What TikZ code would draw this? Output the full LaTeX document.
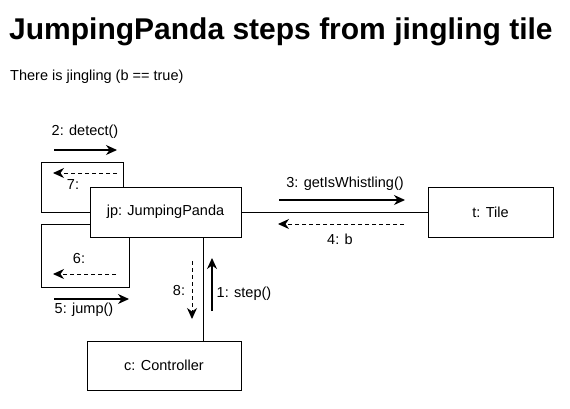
\documentclass[tikz,border=0pt]{standalone}
\usepackage{fontspec}
\setmainfont{Liberation Sans}
\usetikzlibrary{arrows.meta}
\begin{document}
\begin{tikzpicture}[x=1pt,y=-1pt,
  obj/.style={draw,line width=1pt,minimum width=#1,minimum height=50pt,inner sep=0pt,font=\fontsize{14.5}{17}\selectfont},
  link/.style={draw,line width=1pt},
  msg/.style={line width=1.1pt,-{Stealth[length=11pt,width=10pt,inset=3.5pt]}},
  ret/.style={msg,line width=1pt,dash pattern=on 4pt off 3pt},
  lbl/.style={font=\fontsize{14.5}{17}\selectfont,inner sep=0pt}]
\useasboundingbox (0,0) rectangle (570,408);
\node[anchor=base west,inner sep=0pt,font=\bfseries\fontsize{30}{34}\selectfont] (title) at (9,39) {JumpingPanda steps from jingling tile};
\node[anchor=base west,inner sep=0pt,font=\fontsize{14.5}{17}\selectfont] (sub) at (10,80) {There is jingling (b == true)};
\node[obj=151pt] (jp) at (165.5,212) {jp: JumpingPanda};
\node[obj=125pt] (t) at (490.5,212) {t: Tile};
\node[obj=154pt,minimum height=49pt] (c) at (164,365.5) {c: Controller};
% links
\draw[link] (jp.east) -- (t.west);
\coordinate (jpb) at (203,237);
\coordinate (ct) at (203,341);
\draw[link] (jpb) -- (ct);
% self loops
\coordinate (u1) at (90,212);
\coordinate (u2) at (123,187);
\draw[link] (u1) -- (41,212) -- (41,162) -- (123,162) -- (u2);
\coordinate (l1) at (90,224);
\coordinate (l2) at (129,237);
\draw[link] (l1) -- (41,224) -- (41,287) -- (129,287) -- (l2);
% messages
\coordinate (m2a) at (54,150); \coordinate (m2b) at (117,150);
\draw[msg] (m2a) -- (m2b);
\node[lbl] (l2t) at (85,132) {2: detect()};
\coordinate (m7a) at (117,173); \coordinate (m7b) at (53,173);
\draw[ret] (m7a) -- (m7b);
\node[lbl] (l7t) at (73,185) {7:};
\coordinate (m6a) at (116,274); \coordinate (m6b) at (53,274);
\draw[ret] (m6a) -- (m6b);
\node[lbl] (l6t) at (79,259) {6:};
\coordinate (m5a) at (54,299); \coordinate (m5b) at (129,299);
\draw[msg] (m5a) -- (m5b);
\node[lbl] (l5t) at (84,310) {5: jump()};
\coordinate (m3a) at (279,200); \coordinate (m3b) at (405,200);
\draw[msg] (m3a) -- (m3b);
\node[lbl] (l3t) at (345,184) {3: getIsWhistling()};
\coordinate (m4a) at (404,224); \coordinate (m4b) at (278,224);
\draw[ret] (m4a) -- (m4b);
\node[lbl] (l4t) at (340,239) {4: b};
\coordinate (m1a) at (212,311); \coordinate (m1b) at (212,258);
\draw[msg] (m1a) -- (m1b);
\node[lbl] (l1t) at (244,294) {1: step()};
\coordinate (m8a) at (192,261); \coordinate (m8b) at (192,319);
\draw[ret] (m8a) -- (m8b);
\node[lbl] (l8t) at (179,291) {8:};
\end{tikzpicture}
\end{document}
